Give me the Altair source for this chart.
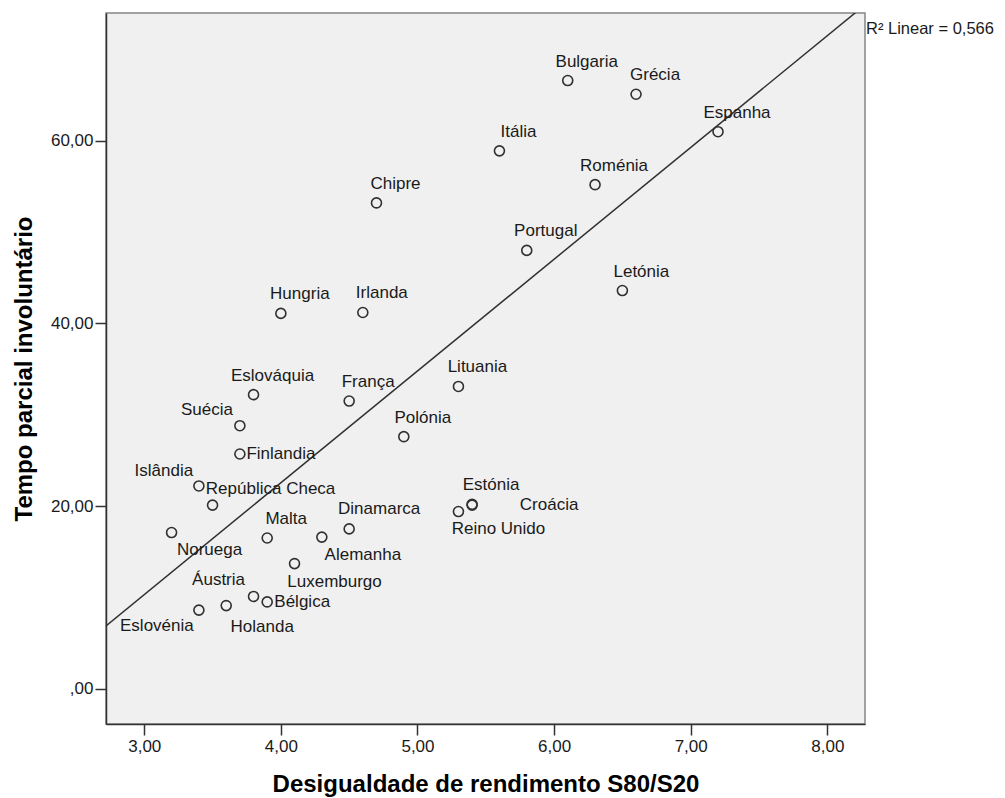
import altair as alt
import pandas as pd

# ---- data ----
countries = ["Bulgaria", "Grécia", "Espanha", "Itália", "Roménia", "Chipre", "Portugal",
             "Letónia", "Hungria", "Irlanda", "Lituania", "Eslováquia", "França", "Suécia",
             "Polónia", "Finlandia", "Islândia", "República Checa", "Estónia", "Croácia",
             "Reino Unido", "Dinamarca", "Alemanha", "Noruega", "Malta", "Luxemburgo",
             "Áustria", "Bélgica", "Holanda", "Eslovénia"]
s80_s20 = [6.1, 6.6, 7.2, 5.6, 6.3, 4.7, 5.8,
           6.5, 4.0, 4.6, 5.3, 3.8, 4.5, 3.7,
           4.9, 3.7, 3.4, 3.5, 5.4, 5.4,
           5.3, 4.5, 4.3, 3.2, 3.9, 4.1,
           3.8, 3.9, 3.6, 3.4]
tempo_parcial = [66.6, 65.1, 61.0, 58.9, 55.2, 53.2, 48.0,
                 43.6, 41.1, 41.2, 33.1, 32.2, 31.5, 28.8,
                 27.6, 25.7, 22.2, 20.1, 20.1, 20.2,
                 19.4, 17.5, 16.6, 17.1, 16.5, 13.7,
                 10.1, 9.5, 9.1, 8.6]
x_ticks = [3, 4, 5, 6, 7, 8]
y_ticks = [0, 20, 40, 60]
r2_label = "R² Linear = 0,566"

# label placement offsets (pixels, relative to the point) - layout only
label_dx = [19, 19, 19, 19, 19, 19, 19,
            19, 19, 19, 19, 19, 19, -33,
            19, 41, -35, 58, 19, 77,
            40, 30, 41, 38, 19, 40,
            -35, 35, 36, -42]
label_dy = [-19, -19, -19, -19, -19, -19, -19,
            -19, -19, -19, -19, -19, -19, -16,
            -19, 0, -15, -16, -20, 1,
            17, -20, 18, 17, -19, 18,
            -16, 0, 21, 16]

df = pd.DataFrame({"pais": countries, "s80s20": s80_s20, "tpi": tempo_parcial,
                   "ldx": label_dx, "ldy": label_dy})

FONT = "Liberation Sans"
XDOM = [2.72, 8.276]
YDOM = [-3.87, 74.0]
label_expr = "datum.value == 0 ? ',00' : replace(format(datum.value, '.2f'), '.', ',')"

x_enc = alt.X("s80s20:Q", title="Desigualdade de rendimento S80/S20",
              scale=alt.Scale(domain=XDOM, nice=False, zero=False),
              axis=alt.Axis(values=x_ticks, labelExpr=label_expr, labelPadding=3,
                            titlePadding=18))
y_enc = alt.Y("tpi:Q", title="Tempo parcial involuntário",
              scale=alt.Scale(domain=YDOM, nice=False, zero=False),
              axis=alt.Axis(values=y_ticks, labelExpr=label_expr, labelPadding=2,
                            titlePadding=14))

base = alt.Chart(df)

points = base.mark_point(shape="circle", filled=False, size=100, stroke="#303030",
                         strokeWidth=1.6, opacity=1).encode(x=x_enc, y=y_enc)

fit = base.transform_regression("s80s20", "tpi", extent=XDOM).mark_line(
    clip=True, color="#303030", strokeWidth=1.5
).encode(x="s80s20:Q", y="tpi:Q")

label_layers = []
pairs = sorted(set(zip(label_dx, label_dy)))
for ddx, ddy in pairs:
    names = [c for c, a, b in zip(countries, label_dx, label_dy) if a == ddx and b == ddy]
    label_layers.append(
        base.transform_filter(alt.FieldOneOfPredicate(field="pais", oneOf=names))
        .mark_text(dx=ddx, dy=ddy, align="center", baseline="middle", font=FONT,
                   fontSize=17, color="#1a1a1a")
        .encode(x="s80s20:Q", y="tpi:Q", text="pais:N")
    )

r2 = alt.Chart(pd.DataFrame({"t": [r2_label]})).mark_text(
    align="left", baseline="middle", font=FONT, fontSize=16.5, color="#1a1a1a"
).encode(x=alt.value(760), y=alt.value(16), text="t:N")

chart = alt.layer(fit, points, *label_layers, r2).properties(
    width=759, height=711,
    padding={"left": 98, "top": 5, "right": 132, "bottom": 74},
    autosize=alt.AutoSizeParams(type="none"),
).configure_view(
    fill="#f0f0f0", stroke="#858585", strokeWidth=1.5
).configure_axis(
    grid=False, domainColor="#333333", domainWidth=1.5, tickColor="#333333",
    tickWidth=1.5, tickSize=11, labelFont=FONT, labelFontSize=17, labelColor="#1a1a1a",
    titleFont=FONT, titleFontSize=24, titleFontWeight="bold", titleColor="#000000"
)

chart.save("out.html", embed_options={"renderer": "svg", "actions": False})
